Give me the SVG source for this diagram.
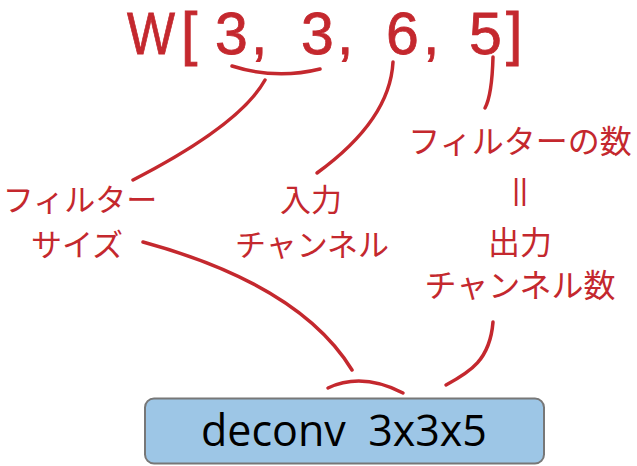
<svg xmlns="http://www.w3.org/2000/svg" width="637" height="466" viewBox="0 0 637 466">
<style>
.lbl{font-family:"Noto Sans CJK JP","Noto Sans",sans-serif;font-size:32px;fill:#c4282e;text-anchor:middle}
.two{font-size:31px}
.ttl{font-family:"Liberation Sans",sans-serif;font-size:59px;fill:#c4282e;stroke:#c4282e;stroke-width:0.8}
.ln{fill:none;stroke:#c4282e;stroke-width:3.5;stroke-linecap:round}
</style>
<rect width="637" height="466" fill="#fff"/>
<g id="title">
<text class="ttl" y="54"><tspan x="127" textLength="48" lengthAdjust="spacingAndGlyphs">W</tspan><tspan x="181 215 251 270 301 337 355 386 423 440 469 506">[3, 3, 6, 5]</tspan></text>
</g>
<g id="filter-size">
<text class="lbl two"><tspan x="80" y="211">フィルター</tspan><tspan x="77" y="256">サイズ</tspan></text>
</g>
<g id="input-channel">
<text class="lbl two"><tspan x="311" y="211">入力</tspan><tspan x="312" y="256">チャンネル</tspan></text>
</g>
<g id="filter-count">
<text class="lbl" x="520" y="153">フィルターの数</text>
<text class="lbl" x="520" y="200" style="font-family:'Liberation Sans',sans-serif;font-size:30px">||</text>
<text class="lbl" x="520" y="254">出力</text>
<text class="lbl" x="520" y="297">チャンネル数</text>
</g>
<g id="deconv">
<rect x="145" y="398.5" width="399" height="65" rx="9" fill="#9dc6e6" stroke="#777" stroke-width="2"/>
<text x="344" y="446" xml:space="preserve" style="font-family:'Open Sans',sans-serif;font-size:43px;fill:#000;text-anchor:middle">deconv  3x3x5</text>
</g>
<g id="connectors">
<path class="ln" d="M232,66 Q276,80 320,69"/>
<path class="ln" d="M265,80 Q240,125 133,180"/>
<path class="ln" d="M393,62 Q390,120 317,173"/>
<path class="ln" d="M493,57 Q492,95 485,108"/>
<path class="ln" d="M143,242 Q300,285 352,370"/>
<path class="ln" d="M328,388 Q362,372 403,393"/>
<path class="ln" d="M493,322 C490,360 470,372 446,385"/>
</g>
</svg>
